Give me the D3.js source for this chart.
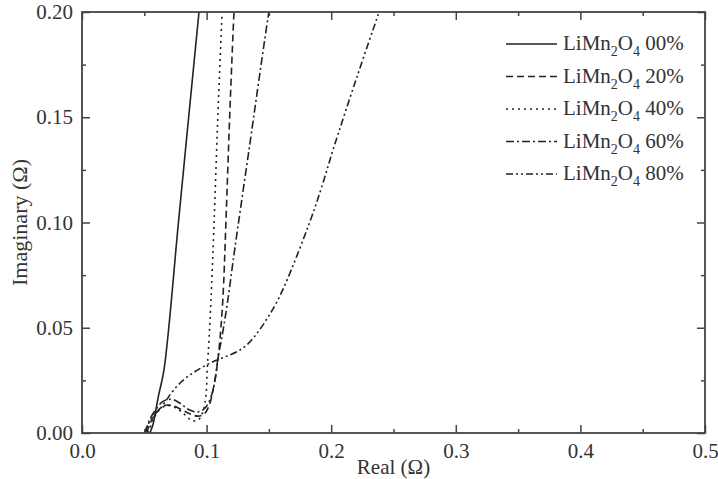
<!DOCTYPE html>
<html><head><meta charset="utf-8">
<script src="https://cdn.jsdelivr.net/npm/d3@7"></script>
<style>
body{margin:0;background:#fff;}
svg text{font-family:"Liberation Serif","Times New Roman",serif;fill:#333;}
</style></head>
<body><svg id="c" width="718" height="479"></svg>
<script>
const xTicks = [0.0, 0.1, 0.2, 0.3, 0.4, 0.5];
const yTicks = [0.00, 0.05, 0.10, 0.15, 0.20];
const seriesNames = ["00%", "20%", "40%", "60%", "80%"];
const s00 = [[0.0545,0],[0.057,0.004],[0.059,0.010],[0.0615,0.018],[0.0658,0.030],[0.0774,0.1],[0.0856,0.15],[0.0939,0.2],[0.0960,0.213]];
const s20 = [[0.052,0],[0.055,0.005],[0.060,0.010],[0.066,0.013],[0.073,0.013],[0.080,0.011],[0.087,0.009],[0.093,0.008],[0.098,0.009],[0.102,0.013],[0.105,0.020],[0.108,0.030],[0.110,0.040],[0.113,0.063],[0.1155,0.10],[0.1185,0.15],[0.122,0.2],[0.123,0.21]];
const s40 = [[0.053,0],[0.057,0.006],[0.062,0.011],[0.068,0.013],[0.075,0.012],[0.082,0.009],[0.088,0.006],[0.093,0.006],[0.097,0.010],[0.0995,0.018],[0.1005,0.03],[0.102,0.045],[0.1035,0.063],[0.106,0.1],[0.109,0.15],[0.1124,0.2],[0.113,0.21]];
const s60 = [[0.051,0],[0.054,0.006],[0.059,0.011],[0.065,0.015],[0.072,0.016],[0.079,0.014],[0.086,0.011],[0.093,0.010],[0.099,0.012],[0.104,0.018],[0.107,0.026],[0.109,0.035],[0.113,0.048],[0.117,0.063],[0.1225,0.087],[0.134,0.1344],[0.150,0.2],[0.153,0.21]];
const s80 = [[0.050,0],[0.053,0.004],[0.057,0.008],[0.062,0.011],[0.067,0.015],[0.073,0.020],[0.081,0.025],[0.089,0.0285],[0.097,0.0314],[0.1067,0.0343],[0.115,0.0362],[0.125,0.0388],[0.133,0.0422],[0.141,0.0478],[0.149,0.0548],[0.157,0.063],[0.165,0.0733],[0.1774,0.0917],[0.1854,0.1045],[0.1934,0.1188],[0.2014,0.1344],[0.220,0.168],[0.2384,0.2],[0.244,0.21]];
const seriesData = [s00, s20, s40, s60, s80];
const dashes = [null, "7,4", "2,4", "8,3,2,3", "7,3,2,3,2,3"];

const L = 82, R = 705, T = 12, B = 433;
const svg = d3.select("#c");
const x = d3.scaleLinear().domain([0, 0.5]).range([L, R]);
const y = d3.scaleLinear().domain([0, 0.2]).range([B, T]);

svg.append("defs").append("clipPath").attr("id","clip")
  .append("rect").attr("x",L).attr("y",T).attr("width",R-L).attr("height",B-T);

const line = d3.line().x(d=>x(d[0])).y(d=>y(d[1])).curve(d3.curveCatmullRom.alpha(0.5));
const g = svg.append("g").attr("clip-path","url(#clip)");
seriesData.forEach((s,i)=>{
  g.append("path").attr("d", line(s)).attr("fill","none").attr("stroke","#222")
   .attr("stroke-width",1.6).attr("stroke-dasharray", dashes[i]);
});

const xMinor = d3.range(0.05, 0.5, 0.1);
const yMinor = d3.range(0.025, 0.2, 0.05);
const styleAxis = sel => { sel.select(".domain").remove(); sel.selectAll("line").attr("stroke","#444").attr("stroke-width",1.5); sel.selectAll("text").attr("font-size",21).attr("fill","#333").attr("font-family",null); };

svg.append("g").attr("transform",`translate(0,${B})`)
  .call(d3.axisBottom(x).tickValues(xTicks).tickFormat(d3.format(".1f")).tickSize(-8).tickPadding(10)).call(styleAxis);
svg.append("g").attr("transform",`translate(0,${B})`)
  .call(d3.axisBottom(x).tickValues(xMinor).tickFormat("").tickSize(-4)).call(styleAxis);
svg.append("g").attr("transform",`translate(0,${T})`)
  .call(d3.axisTop(x).tickValues(xTicks).tickFormat("").tickSize(-8)).call(styleAxis);
svg.append("g").attr("transform",`translate(0,${T})`)
  .call(d3.axisTop(x).tickValues(xMinor).tickFormat("").tickSize(-4)).call(styleAxis);
svg.append("g").attr("transform",`translate(${L},0)`)
  .call(d3.axisLeft(y).tickValues(yTicks).tickFormat(d3.format(".2f")).tickSize(-8).tickPadding(9)).call(styleAxis);
svg.append("g").attr("transform",`translate(${L},0)`)
  .call(d3.axisLeft(y).tickValues(yMinor).tickFormat("").tickSize(-4)).call(styleAxis);
svg.append("g").attr("transform",`translate(${R},0)`)
  .call(d3.axisRight(y).tickValues(yTicks).tickFormat("").tickSize(-8)).call(styleAxis);
svg.append("g").attr("transform",`translate(${R},0)`)
  .call(d3.axisRight(y).tickValues(yMinor).tickFormat("").tickSize(-4)).call(styleAxis);

svg.append("rect").attr("x",L).attr("y",T).attr("width",R-L).attr("height",B-T)
  .attr("fill","none").attr("stroke","#444").attr("stroke-width",1.8);

svg.append("text").attr("x",(L+R)/2).attr("y",474).attr("text-anchor","middle").attr("font-size",21).text("Real (Ω)");
svg.append("text").attr("transform",`translate(27,${(T+B)/2}) rotate(-90)`).attr("text-anchor","middle").attr("font-size",22).text("Imaginary (Ω)");

const lg = svg.append("g");
seriesNames.forEach((n,i)=>{
  const yy = 44 + i*32.5;
  lg.append("line").attr("x1",506).attr("x2",557).attr("y1",yy).attr("y2",yy)
    .attr("stroke","#222").attr("stroke-width",1.6).attr("stroke-dasharray",dashes[i]);
  const t = lg.append("text").attr("x",563).attr("y",yy+6).attr("font-size",21);
  t.append("tspan").text("LiMn");
  t.append("tspan").attr("font-size",14).attr("dy",6).text("2");
  t.append("tspan").attr("dy",-6).text("O");
  t.append("tspan").attr("font-size",14).attr("dy",6).text("4");
  t.append("tspan").attr("dy",-6).text(" " + n);
});
</script></body></html>
